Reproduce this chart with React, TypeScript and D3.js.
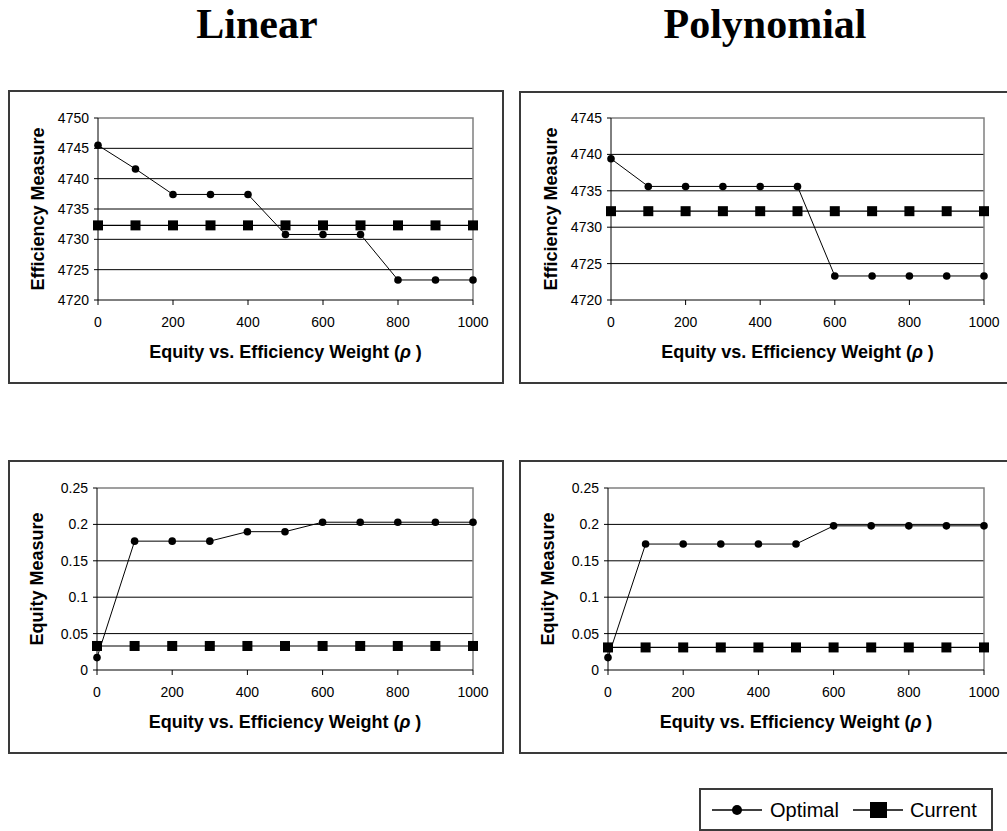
import React from 'react';
import * as d3 from 'd3';

const rho = [0, 100, 200, 300, 400, 500, 600, 700, 800, 900, 1000];
const xTicks = [0, 200, 400, 600, 800, 1000];

const linearEffOptimal = [4745.5, 4741.6, 4737.4, 4737.4, 4737.4, 4730.8, 4730.8, 4730.8, 4723.3, 4723.3, 4723.3];
const linearEffCurrent = [4732.3, 4732.3, 4732.3, 4732.3, 4732.3, 4732.3, 4732.3, 4732.3, 4732.3, 4732.3, 4732.3];
const polyEffOptimal = [4739.4, 4735.6, 4735.6, 4735.6, 4735.6, 4735.6, 4723.3, 4723.3, 4723.3, 4723.3, 4723.3];
const polyEffCurrent = [4732.2, 4732.2, 4732.2, 4732.2, 4732.2, 4732.2, 4732.2, 4732.2, 4732.2, 4732.2, 4732.2];

const linearEqOptimal = [0.017, 0.177, 0.177, 0.177, 0.19, 0.19, 0.203, 0.203, 0.203, 0.203, 0.203];
const linearEqCurrent = [0.033, 0.033, 0.033, 0.033, 0.033, 0.033, 0.033, 0.033, 0.033, 0.033, 0.033];
const polyEqOptimal = [0.017, 0.173, 0.173, 0.173, 0.173, 0.173, 0.198, 0.198, 0.198, 0.198, 0.198];
const polyEqCurrent = [0.031, 0.031, 0.031, 0.031, 0.031, 0.031, 0.031, 0.031, 0.031, 0.031, 0.031];

const linearEffTicks = [4720, 4725, 4730, 4735, 4740, 4745, 4750];
const polyEffTicks = [4720, 4725, 4730, 4735, 4740, 4745];
const equityTicks = [0, 0.05, 0.1, 0.15, 0.2, 0.25];

const columnTitles = ['Linear', 'Polynomial'];
const seriesNames = ['Optimal', 'Current'];

const SANS = '"Liberation Sans", Arial, sans-serif';
const SERIF = '"Liberation Serif", "Times New Roman", serif';

function Panel({ box, plot, yTicks, yLabel, optimal, current }) {
  const [bx, by, bw, bh] = box;
  const [left, top, right, bottom] = plot;
  const x = d3.scaleLinear([0, 1000], [left, right]);
  const y = d3.scaleLinear(d3.extent(yTicks), [bottom, top]);
  const line = d3.line().x((d, i) => x(rho[i])).y(d => y(d));

  return (
    <g>
      <rect x={bx} y={by} width={bw} height={bh} fill="#fff" stroke="#3a3a3a" strokeWidth={2} />
      {/* gridlines */}
      {yTicks.slice(1, -1).map(t => (
        <line key={t} x1={left} x2={right} y1={y(t)} y2={y(t)} stroke="#000" strokeWidth={1} />
      ))}
      {/* plot border top/right */}
      <path d={`M${left},${top}H${right}V${bottom}`} fill="none" stroke="#808080" strokeWidth={1.5} />
      {/* axes */}
      <line x1={left} x2={left} y1={top} y2={bottom} stroke="#000" />
      <line x1={left} x2={right} y1={bottom} y2={bottom} stroke="#000" />
      {yTicks.map(t => (
        <g key={t}>
          <line x1={left - 4} x2={left} y1={y(t)} y2={y(t)} stroke="#000" />
          <text x={left - 9} y={y(t)} dy="0.36em" textAnchor="end" fontSize={14} fontFamily={SANS}>{String(t)}</text>
        </g>
      ))}
      {xTicks.map(t => (
        <g key={t}>
          <line x1={x(t)} x2={x(t)} y1={bottom} y2={bottom + 5} stroke="#000" />
          <text x={x(t)} y={bottom + 27} textAnchor="middle" fontSize={14} fontFamily={SANS}>{t}</text>
        </g>
      ))}
      <text x={(left + right) / 2} y={bottom + 58} textAnchor="middle" fontSize={18} fontWeight="bold" fontFamily={SANS}>
        Equity vs. Efficiency Weight (<tspan fontStyle="italic">ρ</tspan> )
      </text>
      <text transform={`translate(${left - 54},${(top + bottom) / 2}) rotate(-90)`} textAnchor="middle" fontSize={18} fontWeight="bold" fontFamily={SANS}>
        {yLabel}
      </text>
      {/* Current series */}
      <path d={line(current)} fill="none" stroke="#000" strokeWidth={1.2} />
      {current.map((d, i) => (
        <rect key={i} x={x(rho[i]) - 5} y={y(d) - 5} width={10} height={10} fill="#000" />
      ))}
      {/* Optimal series */}
      <path d={line(optimal)} fill="none" stroke="#000" strokeWidth={1} />
      {optimal.map((d, i) => (
        <circle key={i} cx={x(rho[i])} cy={y(d)} r={3.8} fill="#000" />
      ))}
    </g>
  );
}

export default function App() {
  const panels = [
    { box: [9, 91, 494, 292], plot: [98, 118, 473, 300], yTicks: linearEffTicks, yLabel: 'Efficiency Measure', optimal: linearEffOptimal, current: linearEffCurrent },
    { box: [520, 92, 500, 291], plot: [611, 118, 984, 300], yTicks: polyEffTicks, yLabel: 'Efficiency Measure', optimal: polyEffOptimal, current: polyEffCurrent },
    { box: [9, 461, 494, 292], plot: [97, 488, 473, 670], yTicks: equityTicks, yLabel: 'Equity Measure', optimal: linearEqOptimal, current: linearEqCurrent },
    { box: [520, 461, 500, 292], plot: [608, 488, 984, 670], yTicks: equityTicks, yLabel: 'Equity Measure', optimal: polyEqOptimal, current: polyEqCurrent },
  ];

  return (
    <svg width={1007} height={831} style={{ position: 'absolute', left: 0, top: 0, background: '#fff' }}>
      <rect width={1007} height={831} fill="#fff" />
      <text x={257} y={38} textAnchor="middle" fontSize={42} fontWeight="bold" fontFamily={SERIF}>{columnTitles[0]}</text>
      <text x={765} y={38} textAnchor="middle" fontSize={42} fontWeight="bold" fontFamily={SERIF}>{columnTitles[1]}</text>
      {panels.map((p, i) => <Panel key={i} {...p} />)}
      {/* legend */}
      <g>
        <rect x={700} y={789} width={292} height={41} fill="#fff" stroke="#3a3a3a" strokeWidth={2} />
        <line x1={712} x2={762} y1={810} y2={810} stroke="#000" strokeWidth={1.5} />
        <circle cx={737} cy={810} r={5} fill="#000" />
        <text x={770} y={817} fontSize={20} fontFamily={SANS}>{seriesNames[0]}</text>
        <line x1={853} x2={903} y1={810} y2={810} stroke="#000" strokeWidth={1.5} />
        <rect x={870} y={802} width={17} height={16} fill="#000" />
        <text x={910} y={817} fontSize={20} fontFamily={SANS}>{seriesNames[1]}</text>
      </g>
    </svg>
  );
}
